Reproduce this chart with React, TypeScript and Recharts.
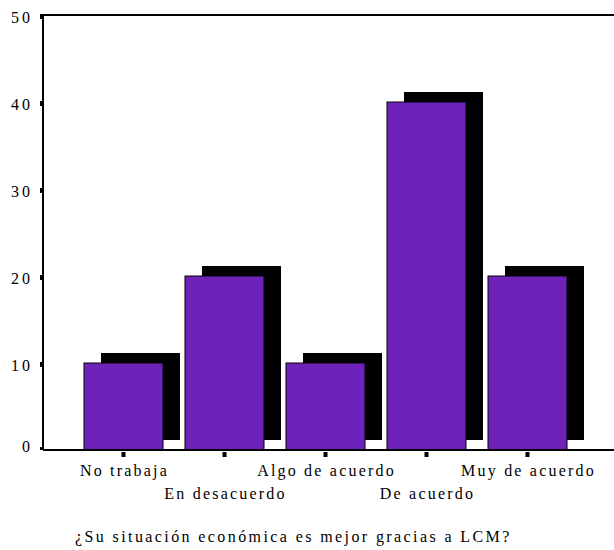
import React from 'react';
import { BarChart, Bar, XAxis, YAxis, ReferenceLine } from 'recharts';

const categories = ['No trabaja', 'En desacuerdo', 'Algo de acuerdo', 'De acuerdo', 'Muy de acuerdo'];
const percents = [10, 20, 10, 40, 20];
const yTicks = [0, 10, 20, 30, 40, 50];
const title = '¿Su situación económica es mejor gracias a LCM?';

const data = categories.map((c, i) => ({ name: c, value: percents[i] }));

const FONT = '"Liberation Serif", "Times New Roman", serif';

function ShadowBar(props: any) {
  const { x, y, width, height } = props;
  return (
    <g>
      <rect x={x + 17} y={y - 10} width={width} height={height} fill="#000" />
      <rect x={x} y={y} width={width} height={height} fill="#6e22b9" stroke="#000" strokeWidth={1} />
    </g>
  );
}

function YTick(props: any) {
  const { y, payload } = props;
  const zero = payload.value === 0;
  return (
    <g>
      <rect x={40} y={zero ? y - 3 : y - 1} width={3} height={zero ? 3 : 5} fill="#000" />
      <text x={33} y={zero ? y + 2 : y + 7.5} textAnchor="end" fontFamily={FONT} fontSize={16} letterSpacing={3} fill="#000">
        {payload.value}
      </text>
    </g>
  );
}

function XTick(props: any) {
  const { x, y, payload, index } = props;
  const row = index % 2 === 0 ? 18 : 41;
  return (
    <g>
      <rect x={x - 2} y={y - 6} width={4} height={5} fill="#000" />
      <text x={x + 1} y={y + row} textAnchor="middle" fontFamily={FONT} fontSize={16} letterSpacing={2.2} fill="#000">
        {payload.value}
      </text>
    </g>
  );
}

function Title() {
  return (
    <text x={75} y={542} fontFamily={FONT} fontSize={16} letterSpacing={2.4} fill="#000">
      {title}
    </text>
  );
}

export default function App() {
  return (
    <div style={{ position: 'absolute', left: 0, top: 0, background: '#fff' }}>
      <BarChart width={614} height={550} data={data} margin={{ top: 15, right: 0, left: 0, bottom: 0 }}>
        <XAxis
          dataKey="name"
          height={100}
          padding={{ left: 30, right: 36 }}
          axisLine={{ stroke: '#000', strokeWidth: 2 }}
          tickLine={false}
          tick={<XTick />}
          interval={0}
          label={<Title />}
        />
        <YAxis
          width={43}
          domain={[0, 50]}
          ticks={yTicks}
          axisLine={{ stroke: '#000', strokeWidth: 2 }}
          tickLine={false}
          tick={<YTick />}
        />
        <ReferenceLine y={50} stroke="#000" strokeWidth={2} />
        <Bar dataKey="value" barSize={79} shape={<ShadowBar />} isAnimationActive={false} />
      </BarChart>
    </div>
  );
}
